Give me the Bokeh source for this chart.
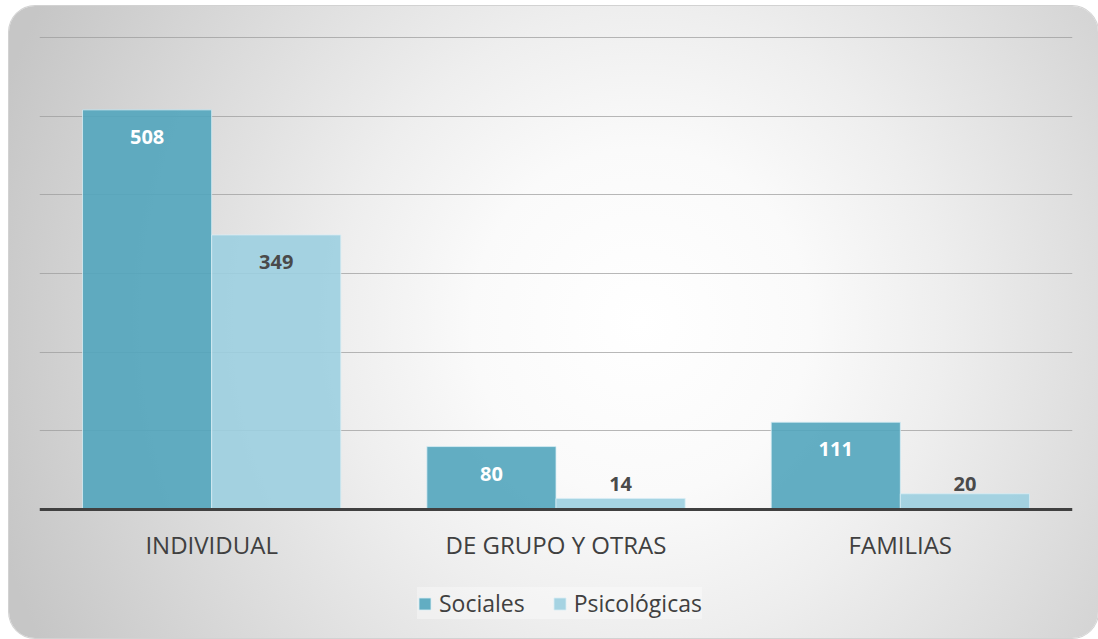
from bokeh.plotting import figure
from bokeh.models import FactorRange, Range1d, FixedTicker, ColumnDataSource, Legend, LegendItem
from bokeh.transform import dodge
from bokeh.core.properties import value
from bokeh.embed import file_html
from bokeh.resources import INLINE

categories = ["INDIVIDUAL", "DE GRUPO Y OTRAS", "FAMILIAS"]
sociales = [508, 80, 111]
psicologicas = [349, 14, 20]
series_names = ["Sociales", "Psicológicas"]
grid_ticks = [100, 200, 300, 400, 500, 600]

FONT = "Open Sans"
C_SOC = "#52a5bd"
C_PSI = "#9ccfe0"

FW = 1033
BAR_H = 472            # pixels from value 0 to value 600
TOP, LEFT, RIGHT = 29, 30, 26
FH = 632 - TOP         # frame reaches the bottom of the card
ppu = BAR_H / 600
ymax = 600 + 2 / ppu
ymin = -(FH - BAR_H - 2) / ppu


def label_pos(vals):
    return [max(v - 27 / ppu, 26 / ppu) for v in vals]


src = ColumnDataSource(dict(
    cat=categories,
    soc=sociales,
    psi=psicologicas,
    soc_t=[str(v) for v in sociales],
    psi_t=[str(v) for v in psicologicas],
    soc_y=label_pos(sociales),
    psi_y=label_pos(psicologicas),
))

p = figure(x_range=FactorRange(*categories), y_range=Range1d(ymin, ymax),
           frame_width=FW, frame_height=FH, output_backend="svg", toolbar_location=None,
           min_border_top=TOP, min_border_bottom=0,
           min_border_left=LEFT, min_border_right=RIGHT)
p.background_fill_color = None
p.border_fill_color = None
p.outline_line_color = None
p.styles = {
    "background": "radial-gradient(ellipse 62% 110% at 58% 50%, #ffffff 0%, #fafafa 25%, #eeeeee 45%, #dcdcdc 70%, #c6c6c6 100%)",
    "border-radius": "26px",
    "margin-left": "9px",
    "margin-top": "6px",
    "box-shadow": "0 0 0 1px #d2d2d2",
}

r1 = p.vbar(x=dodge("cat", -0.1875, range=p.x_range), top="soc", width=0.375, source=src,
            fill_color=C_SOC, fill_alpha=0.9, line_color="#d8eef5", line_width=1, line_alpha=0.8)
r2 = p.vbar(x=dodge("cat", 0.1875, range=p.x_range), top="psi", width=0.375, source=src,
            fill_color=C_PSI, fill_alpha=0.9, line_color="#d8eef5", line_width=1, line_alpha=0.8)

p.text(x=dodge("cat", -0.1875, range=p.x_range), y="soc_y", text="soc_t", source=src,
       text_align="center", text_baseline="middle", text_color="white",
       text_font=value(FONT), text_font_style="bold", text_font_size="20px")
p.text(x=dodge("cat", 0.1875, range=p.x_range), y="psi_y", text="psi_t", source=src,
       text_align="center", text_baseline="middle", text_color="#4a4a4a",
       text_font=value(FONT), text_font_style="bold", text_font_size="20px")

p.yaxis.visible = False
p.xgrid.grid_line_color = None
p.ygrid.ticker = FixedTicker(ticks=grid_ticks)
p.ygrid.grid_line_color = "#9a9a9a"
p.ygrid.grid_line_alpha = 0.7
p.ygrid.grid_line_width = 1

xa = p.xaxis[0]
xa.fixed_location = 0
xa.axis_line_color = "#404040"
xa.axis_line_width = 3
xa.major_tick_line_color = None
xa.minor_tick_line_color = None
xa.major_tick_out = 0
xa.major_tick_in = 0
xa.major_label_standoff = 18
xa.major_label_text_font = FONT
xa.major_label_text_font_size = "24px"
xa.major_label_text_color = "#404040"

legend = Legend(items=[LegendItem(label=series_names[0], renderers=[r1]),
                       LegendItem(label=series_names[1], renderers=[r2])],
                orientation="horizontal", location=(378, 19),
                label_text_font=FONT, label_text_font_size="23px", label_text_color="#404040",
                glyph_width=15, glyph_height=15, label_standoff=7, spacing=27,
                padding=12, margin=0, border_line_color=None,
                background_fill_color="white", background_fill_alpha=0.35)
p.add_layout(legend, "center")

open("out.html", "w").write(file_html(p, INLINE))
